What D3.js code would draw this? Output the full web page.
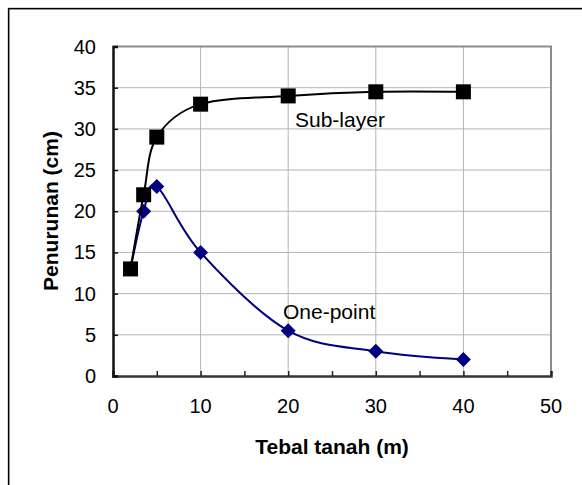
<!DOCTYPE html>
<head>
<meta charset="utf-8">
<title>Penurunan vs Tebal tanah</title>
<script src="https://d3js.org/d3.v7.min.js"></script>
<style>
  body { margin: 0; background: #fff; }
  text { font-family: Arial, "Liberation Sans", sans-serif; }
</style>
</head>
<body>
<div id="chart"></div>
<script>

// data
var subX = [2, 3.5, 5, 10, 20, 30, 40];
var subY = [13, 22, 29, 33, 34, 34.5, 34.5];
var oneX = [2, 3.5, 5, 10, 20, 30, 40];
var oneY = [13, 20, 23, 15, 5.5, 3, 2];
var xTicks = [0, 10, 20, 30, 40, 50];
var yTicks = [0, 5, 10, 15, 20, 25, 30, 35, 40];

var margin = {top: 46.5, right: 31, bottom: 109, left: 113},
    width = 582 - margin.left - margin.right,
    height = 485 - margin.top - margin.bottom;

var svg = d3.select("#chart")
  .append("svg")
    .attr("width", 582)
    .attr("height", 485);

// outer chart frame (only top/left visible)
svg.append("rect")
  .attr("x", 9.5).attr("y", 9.5)
  .attr("width", 700).attr("height", 700)
  .attr("fill", "none")
  .attr("stroke", "#aaa")
  .attr("stroke-width", 1);
svg.append("rect")
  .attr("x", 8.5).attr("y", 8.5)
  .attr("width", 700).attr("height", 700)
  .attr("fill", "none")
  .attr("stroke", "#000")
  .attr("stroke-width", 1.3);

var g = svg.append("g")
  .attr("transform", "translate(" + margin.left + "," + margin.top + ")");

var x = d3.scaleLinear().domain([0, 50]).range([0, width]);
var y = d3.scaleLinear().domain([0, 40]).range([height, 0]);

// gridlines
g.selectAll(".vgrid")
  .data(xTicks.slice(1, -1))
  .enter().append("line")
    .attr("x1", function(d) { return x(d); })
    .attr("x2", function(d) { return x(d); })
    .attr("y1", 0).attr("y2", height)
    .attr("stroke", "#b4b4b4").attr("stroke-width", 1);
g.selectAll(".hgrid")
  .data(yTicks.slice(1, -1))
  .enter().append("line")
    .attr("y1", function(d) { return y(d); })
    .attr("y2", function(d) { return y(d); })
    .attr("x1", 0).attr("x2", width)
    .attr("stroke", "#b4b4b4").attr("stroke-width", 1);

// plot border (top/right gray)
g.append("path")
  .attr("d", "M0,0H" + width + "V" + height)
  .attr("fill", "none")
  .attr("stroke", "#8c8c8c")
  .attr("stroke-width", 2);

// x axis
var xAxis = g.append("g")
  .attr("transform", "translate(0," + height + ")")
  .call(d3.axisBottom(x).tickValues(d3.range(0, 55, 5)).tickSize(-5).tickFormat(""));
xAxis.select(".domain").attr("stroke", "#333").attr("stroke-width", 2.5);
xAxis.selectAll(".tick line").attr("stroke", "#222").attr("stroke-width", 1.5);

g.selectAll(".xlab")
  .data(xTicks)
  .enter().append("text")
    .attr("x", function(d) { return x(d); })
    .attr("y", height + 37)
    .attr("text-anchor", "middle")
    .style("font-size", "20px")
    .text(function(d) { return d; });

// y axis
var yAxis = g.append("g")
  .call(d3.axisLeft(y).tickValues(yTicks).tickSize(-5).tickFormat(""));
yAxis.select(".domain").attr("stroke", "#111").attr("stroke-width", 2.5);
yAxis.selectAll(".tick line").attr("stroke", "#111").attr("stroke-width", 1.5);

g.selectAll(".ylab")
  .data(yTicks)
  .enter().append("text")
    .attr("x", -17)
    .attr("y", function(d) { return y(d); })
    .attr("dy", "0.35em")
    .attr("text-anchor", "end")
    .style("font-size", "20px")
    .text(function(d) { return d; });

// axis titles
svg.append("text")
  .attr("x", 332)
  .attr("y", 454)
  .attr("text-anchor", "middle")
  .style("font-size", "21px")
  .style("font-weight", "bold")
  .text("Tebal tanah (m)");

svg.append("text")
  .attr("transform", "translate(58," + 211 + ")rotate(-90)")
  .attr("text-anchor", "middle")
  .style("font-size", "21px")
  .style("font-weight", "bold")
  .text("Penurunan (cm)");

// series
var line = d3.line()
  .x(function(d) { return x(d[0]); })
  .y(function(d) { return y(d[1]); })
  .curve(d3.curveCatmullRom.alpha(0));

var oneData = d3.zip(oneX, oneY);
var subData = d3.zip(subX, subY);

g.append("path")
  .datum(oneData)
  .attr("d", line)
  .attr("fill", "none")
  .attr("stroke", "#000080")
  .attr("stroke-width", 2);

g.selectAll(".dia")
  .data(oneData)
  .enter().append("path")
    .attr("transform", function(d) { return "translate(" + x(d[0]) + "," + y(d[1]) + ")"; })
    .attr("d", "M0,-7.5L7.5,0L0,7.5L-7.5,0Z")
    .attr("fill", "#000080");

g.append("path")
  .datum(subData)
  .attr("d", line)
  .attr("fill", "none")
  .attr("stroke", "#000")
  .attr("stroke-width", 2);

g.selectAll(".sq")
  .data(subData)
  .enter().append("rect")
    .attr("x", function(d) { return x(d[0]) - 7.5; })
    .attr("y", function(d) { return y(d[1]) - 7.5; })
    .attr("width", 15)
    .attr("height", 15)
    .attr("fill", "#000");

// series labels
svg.append("text")
  .attr("x", 295).attr("y", 127)
  .style("font-size", "21px")
  .text("Sub-layer");
svg.append("text")
  .attr("x", 283).attr("y", 319)
  .style("font-size", "21px")
  .text("One-point");

</script>
</body>
